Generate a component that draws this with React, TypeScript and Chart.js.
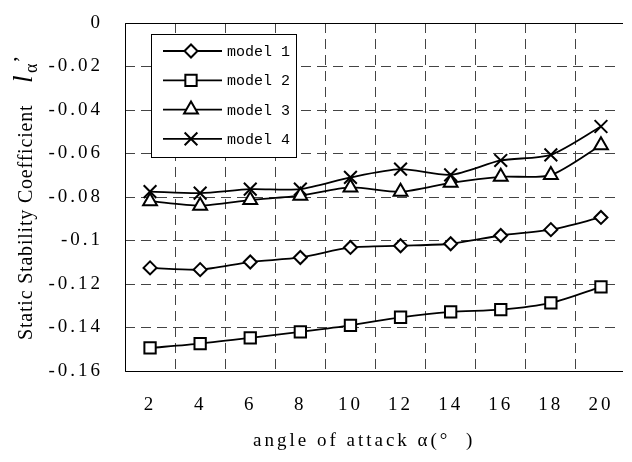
import React, { useEffect, useRef } from 'react';
import { Chart, registerables } from 'chart.js';
import { drawPoint } from 'chart.js/helpers';

Chart.register(...registerables);

const xCategories = [2, 4, 6, 8, 10, 12, 14, 16, 18, 20];
const xTickLabels = ['2', '4', '6', '8', '10', '12', '14', '16', '18', '20'];
const yTickValues = [-0.16, -0.14, -0.12, -0.1, -0.08, -0.06, -0.04, -0.02, 0];
const yTickLabels = ['-0.16', '-0.14', '-0.12', '-0.1', '-0.08', '-0.06', '-0.04', '-0.02', '0'];
const seriesNames = ['model 1', 'model 2', 'model 3', 'model 4'];
const model1 = [-0.1126, -0.1134, -0.1099, -0.1078, -0.1032, -0.1024, -0.1015, -0.0977, -0.095, -0.0894];
const model2 = [-0.1494, -0.1474, -0.1448, -0.142, -0.139, -0.1353, -0.1328, -0.1318, -0.1287, -0.1213];
const model3 = [-0.0819, -0.084, -0.0814, -0.0794, -0.0756, -0.0776, -0.0735, -0.0707, -0.0699, -0.0562];
const model4 = [-0.0775, -0.0782, -0.0764, -0.0764, -0.071, -0.0672, -0.0698, -0.0632, -0.0606, -0.0476];

const seriesValues = [model1, model2, model3, model4];
const pointStyles = ['rectRot', 'rect', 'triangle', 'crossRot'];
const pointRadii = [6.5, 8, 8, 9];

const tickFont = { family: "'Liberation Serif', serif", size: 19 };

const spacingPlugin = {
  id: 'spacing',
  beforeLayout(chart: any) {
    chart.ctx.letterSpacing = '3px';
  },
  beforeDraw(chart: any) {
    chart.ctx.letterSpacing = '3px';
  },
};

const decorPlugin = {
  id: 'decor',
  beforeDatasetsDraw(chart: any) {
    const { ctx, chartArea } = chart;
    const { left, top, right, bottom } = chartArea;
    ctx.save();
    ctx.setLineDash([]);
    ctx.strokeStyle = '#000';
    ctx.lineWidth = 1;
    ctx.beginPath();
    ctx.moveTo(right + 2, top + 0.5);
    ctx.lineTo(left + 0.5, top + 0.5);
    ctx.lineTo(left + 0.5, bottom + 0.5);
    ctx.lineTo(right + 2, bottom + 0.5);
    ctx.stroke();
    ctx.restore();
  },
  afterDraw(chart: any) {
    const { ctx } = chart;
    // legend
    ctx.save();
    ctx.letterSpacing = '0px';
    ctx.setLineDash([]);
    ctx.fillStyle = '#fff';
    ctx.fillRect(151.5, 34.5, 145, 123);
    ctx.strokeStyle = '#000';
    ctx.lineWidth = 1;
    ctx.strokeRect(151.5, 34.5, 145, 123);
    chart.data.datasets.forEach((ds: any, i: number) => {
      const y = 51 + i * 29.3;
      ctx.strokeStyle = '#000';
      ctx.lineWidth = 1.8;
      ctx.beginPath();
      ctx.moveTo(163, y);
      ctx.lineTo(222, y);
      ctx.stroke();
      ctx.fillStyle = '#fff';
      ctx.lineWidth = 2;
      drawPoint(ctx, { pointStyle: ds.pointStyle, radius: ds.pointRadius, rotation: 0, borderWidth: 2 } as any, 191, y);
      ctx.fillStyle = '#000';
      ctx.font = "15px 'Liberation Mono', monospace";
      ctx.textBaseline = 'middle';
      ctx.textAlign = 'left';
      ctx.fillText(ds.label, 227, y + 1);
    });
    ctx.restore();

    // x title
    ctx.save();
    ctx.fillStyle = '#000';
    ctx.letterSpacing = '3px';
    ctx.font = "19px 'Liberation Serif', serif";
    ctx.textAlign = 'left';
    ctx.textBaseline = 'alphabetic';
    ctx.fillText('angle of attack α(°  )', 253, 446);
    ctx.restore();

    // y title
    ctx.save();
    ctx.fillStyle = '#000';
    ctx.translate(32, 340);
    ctx.rotate(-Math.PI / 2);
    ctx.textAlign = 'left';
    ctx.textBaseline = 'alphabetic';
    ctx.letterSpacing = '0.8px';
    ctx.font = "20px 'Liberation Serif', serif";
    ctx.fillText('Static Stability Coefficient', 0, 0);
    ctx.letterSpacing = '0px';
    ctx.font = "italic 27px 'Liberation Serif', serif";
    ctx.fillText('l', 257, 0);
    ctx.font = "18px 'Liberation Serif', serif";
    ctx.fillText('α', 267, 5);
    ctx.font = "22px 'Liberation Serif', serif";
    ctx.fillText('’', 277, -4);
    ctx.restore();
  },
};

export default function App() {
  const ref = useRef<HTMLCanvasElement>(null);
  useEffect(() => {
    if (!ref.current) return;
    const chart = new Chart(ref.current, {
      type: 'line',
      data: {
        datasets: seriesValues.map((vals, i) => ({
          label: seriesNames[i],
          data: xCategories.map((x, j) => ({ x, y: vals[j] })),
          borderColor: '#000',
          borderWidth: 1.8,
          tension: 0.25,
          pointStyle: pointStyles[i] as any,
          pointRadius: pointRadii[i],
          pointBorderWidth: 2,
          pointBorderColor: '#000',
          pointBackgroundColor: '#fff',
          fill: false,
        })),
      },
      options: {
        responsive: false,
        animation: false,
        devicePixelRatio: 1,
        layout: { padding: { top: 23, left: 0, right: 0, bottom: 0 } },
        plugins: { legend: { display: false }, tooltip: { enabled: false } },
        scales: {
          x: {
            type: 'linear',
            min: 1,
            max: 20.8,
            afterBuildTicks: (s: any) => {
              s.ticks = xCategories.map((v) => ({ value: v }));
            },
            afterFit: (s: any) => {
              s.height = 91;
              s.paddingLeft = 0;
              s.paddingRight = 0;
            },
            grid: { offset: true, color: '#444', lineWidth: 1, drawTicks: false },
            border: { display: false, dash: [10, 6] },
            ticks: {
              callback: (_v: any, i: number) => xTickLabels[i],
              font: tickFont,
              color: '#000',
              padding: 23,
              maxRotation: 0,
              autoSkip: false,
            },
          },
          y: {
            type: 'linear',
            min: -0.16,
            max: 0,
            afterBuildTicks: (s: any) => {
              s.ticks = yTickValues.map((v) => ({ value: v }));
            },
            afterFit: (s: any) => {
              s.width = 125;
              s.paddingTop = 0;
              s.paddingBottom = 0;
            },
            grid: { color: '#444', lineWidth: 1, drawTicks: false },
            border: { display: false, dash: [10, 6] },
            ticks: {
              callback: (_v: any, i: number) => yTickLabels[i],
              font: tickFont,
              color: '#000',
              padding: 22,
            },
          },
        },
      } as any,
      plugins: [spacingPlugin, decorPlugin],
    });
    return () => chart.destroy();
  }, []);
  return (
    <div style={{ position: 'fixed', left: 0, top: 0, width: 632, height: 462, background: '#fff', overflow: 'hidden' }}>
      <canvas ref={ref} width={632} height={462} style={{ display: 'block' }} />
    </div>
  );
}
